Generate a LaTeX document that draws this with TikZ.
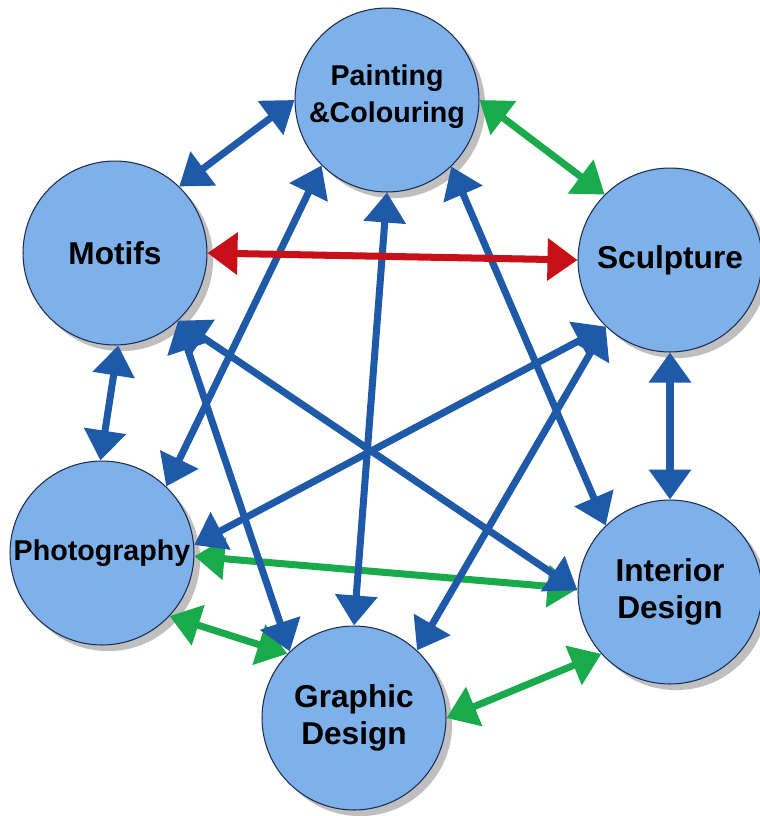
\documentclass[tikz,border=0pt]{standalone}
\usepackage{fontspec}
\setmainfont{Liberation Sans}
\usepackage{tikz}
\usetikzlibrary{
arrows.meta,
shadows
}
\definecolor{artblue}{RGB}{126,176,234}
\definecolor{artnavy}{RGB}{30,45,80}
\definecolor{linkblue}{RGB}{31,90,168}
\definecolor{linkgreen}{RGB}{24,170,75}
\definecolor{linkred}{RGB}{200,16,24}

\begin{document}
\begin{tikzpicture}[x=0.02cm, y=-0.02cm,
  topic/.style={circle, minimum size=3.68cm, inner sep=0pt, fill=artblue,
    draw=artnavy, line width=0.6pt, align=center,
    font=\bfseries\fontsize{18}{21}\selectfont,
    drop shadow={shadow xshift=3.5pt, shadow yshift=-3.5pt, opacity=0.45, fill=black!55}},
  link/.style={line width=4pt,
    {Triangle[length=0.6cm,width=0.82cm]}-{Triangle[length=0.6cm,width=0.82cm]}}]

% Canvas
\fill[white] (0,0) rectangle (760,816);
\useasboundingbox (0,0) rectangle (760,816);

% Circles
\node[topic, font=\bfseries\fontsize{16.3}{21}\selectfont] (paint) at (387,100) {Painting\\\&Colouring\\[-14pt]};
\node[topic] (motifs) at (115,253) {Motifs};
\node[topic] (sculpt) at (670,260) {Sculpture};
\node[topic, font=\bfseries\fontsize{16.3}{20}\selectfont] (photo) at (102,553) {Photography};
\node[topic] (interior) at (670,592) {Interior\\Design};
\node[topic] (graphic) at (354,718) {Graphic\\Design};

% Green links
\draw[link, linkgreen] (paint.0) -- (sculpt.135);
\draw[link, linkgreen] (photo.-2) -- (interior.178);
\draw[link, linkgreen] (photo.-43) -- (graphic.136);
\draw[link, linkgreen] (graphic.0) -- (interior.-138);

% Blue links
\draw[link, linkblue] (paint.180) -- (motifs.46);
\draw[link, linkblue] (paint.-135) -- (photo.46);
\draw[link, linkblue] (paint.-90) -- (graphic.90);
\draw[link, linkblue] (paint.-46) -- (interior.134);
\draw[link, linkblue] (motifs.-88) -- (photo.91);
\draw[link, linkblue] (motifs.-47) -- (graphic.134);
\draw[link, linkblue] (motifs.-47) -- (interior.179);
\draw[link, linkblue] (sculpt.-134) -- (photo.5);
\draw[link, linkblue] (sculpt.-134) -- (graphic.47);
\draw[link, linkblue] (sculpt.-90) -- (interior.90);

% Red link
\draw[link, linkred] (motifs.0) -- (sculpt.180);

\end{tikzpicture}
\end{document}
